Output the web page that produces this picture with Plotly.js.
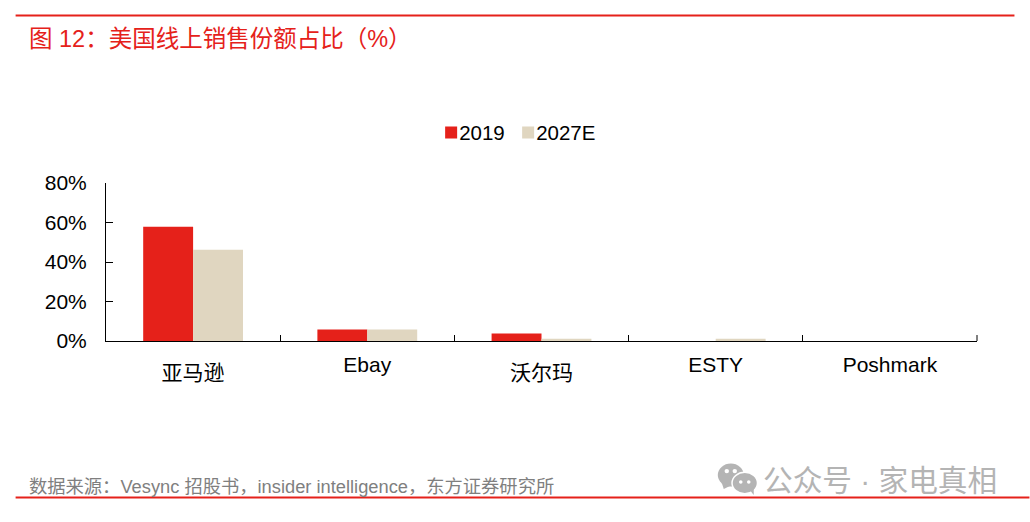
<!DOCTYPE html>
<html><head><meta charset="utf-8">
<script src="https://cdn.plot.ly/plotly-3.0.1.min.js"></script>
<style>html,body{margin:0;padding:0;background:#fff}</style></head>
<body><div id="chart" style="width:1030px;height:522px"></div>
<script>
const categories = ['亚马逊','Ebay','沃尔玛','ESTY','Poshmark'];
const values2019 = [57.8,5.8,3.8,0,0];
const values2027E = [46.2,5.8,1.2,1.2,0];
const yTicks = [0,20,40,60,80];
const yTickLabels = ['0%','20%','40%','60%','80%'];
const titleText = '图 12：美国线上销售份额占比（%）';
const sourceText = '数据来源：Vesync 招股书，insider intelligence，东方证券研究所';
const watermarkText = '公众号 · 家电真相';
const W=1030,H=522;
const L=105.5,R=977.5,T=183,B=341.5;
const FONT='"Liberation Sans","Noto Sans CJK SC",sans-serif';
const RED='#e5211a', TAN='#e0d6c0', GREY='#b4b4b4';
const px=x=>(x-L)/(R-L), py=y=>(B-y)/(B-T);
function circle(cx,cy,rx,ry,c){return {type:'circle',xref:'paper',yref:'paper',x0:px(cx-rx),x1:px(cx+rx),y0:py(cy+ry),y1:py(cy-ry),fillcolor:c,line:{width:0},layer:'above'};}
function tail(p,c){return {type:'path',xref:'paper',yref:'paper',path:'M'+p.map(q=>px(q[0])+','+py(q[1])).join('L')+'Z',fillcolor:c,line:{width:0},layer:'above'};}
function rule(x0,x1,y){return {type:'line',xref:'paper',yref:'paper',x0:px(x0),x1:px(x1),y0:py(y),y1:py(y),line:{color:RED,width:2}};}
const traces=[
 {type:'bar',name:'2019',x:categories,y:values2019,marker:{color:RED,line:{width:0}}},
 {type:'bar',name:'2027E',x:categories,y:values2027E,marker:{color:TAN,line:{width:0}}}
];
const layout={
 width:W,height:H,paper_bgcolor:'#fff',plot_bgcolor:'#fff',showlegend:true,
 font:{family:FONT,color:'#000',size:21},
 margin:{l:L,r:W-R,t:T,b:H-B,pad:0},
 barmode:'group',bargap:0.427,bargroupgap:0,
 xaxis:{type:'category',range:[-0.5,4.5],tickson:'boundaries',ticks:'inside',ticklen:6,tickwidth:1,tickcolor:'#000',showline:true,linecolor:'#000',linewidth:1,showgrid:false,zeroline:false,fixedrange:true,ticklabelstandoff:5,tickfont:{size:21,family:FONT,color:'#000'},tickangle:0},
 yaxis:{range:[0,80],tickvals:yTicks,ticktext:yTickLabels,ticks:'inside',ticklen:7,tickwidth:1,tickcolor:'#000',showline:true,linecolor:'#000',linewidth:1,showgrid:false,zeroline:false,fixedrange:true,ticklabelstandoff:14,tickfont:{size:21,family:FONT,color:'#000'}},
 legend:{orientation:'h',x:px(419),y:py(132.5),xanchor:'left',yanchor:'middle',font:{size:20.5,family:FONT,color:'#000'},bgcolor:'rgba(0,0,0,0)',traceorder:'normal'},
 annotations:[
  {xref:'paper',yref:'paper',x:px(26),y:py(39),xanchor:'left',yanchor:'middle',showarrow:false,text:titleText,font:{size:23.5,color:RED,family:FONT}},
  {xref:'paper',yref:'paper',x:px(26),y:py(487.5),xanchor:'left',yanchor:'middle',showarrow:false,text:sourceText,font:{size:18.3,color:'#7f7f7f',family:FONT}},
  {xref:'paper',yref:'paper',x:px(761),y:py(481),xanchor:'left',yanchor:'middle',showarrow:false,text:watermarkText,font:{size:29.7,color:GREY,family:FONT}}
 ],
 shapes:[
  rule(15,1015,15),rule(15,1030,498.5),
  {type:'line',xref:'paper',yref:'paper',x0:1,x1:1,y0:0,y1:6/(B-T),line:{color:'#000',width:1}},
  circle(731,476,13,11.5,GREY),
  tail([[722,484],[724,490],[732,486]],GREY),
  circle(745,484,13.5,11.5,'#fff'),
  circle(745,484,12,10,GREY),
  tail([[750,491],[754,496],[754,488]],GREY),
  circle(727,472,2.2,2.2,'#fff'),circle(735,472,2.2,2.2,'#fff'),
  circle(741,483,1.8,1.8,'#fff'),circle(749,483,1.8,1.8,'#fff')
 ]
};
Plotly.newPlot('chart',traces,layout,{staticPlot:true,displayModeBar:false}).then(()=>{
  // Tighten the legend swatches against their labels and the two entries together, as in the reference.
  document.querySelectorAll('#chart .legendsymbols').forEach(g=>{g.setAttribute('transform','translate(12,0)');});
  const items=document.querySelectorAll('#chart .legend .traces');
  if(items.length===2){
    const m=/translate\(\s*([-\d.]+)[ ,]+([-\d.]+)/.exec(items[0].getAttribute('transform'));
    if(m){items[1].setAttribute('transform','translate('+(parseFloat(m[1])+77)+','+m[2]+')');}
  }
  // CJK category labels sit lower than the Latin ones in the reference.
  document.querySelectorAll('#chart .xtick text').forEach(t=>{
    if(/[\u4e00-\u9fff]/.test(t.textContent)){t.setAttribute('y',parseFloat(t.getAttribute('y'))+8);}
  });
});
</script></body></html>
